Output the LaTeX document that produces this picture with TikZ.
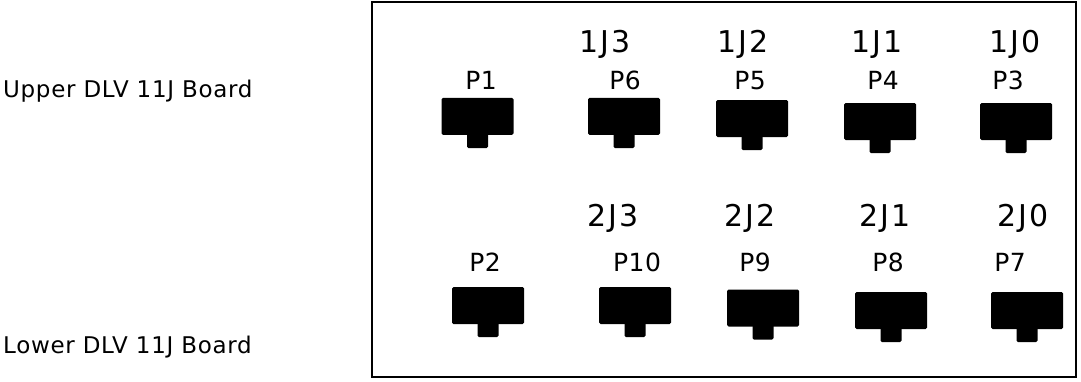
\documentclass[tikz,border=0pt]{standalone}
\usepackage{fontspec}
\setmainfont{DejaVu Sans}
\usepackage{tikz}
\usetikzlibrary{positioning}

\begin{document}
\begin{tikzpicture}[
      x=1pt,
      y=-1pt,
      jack/.style={
         fill=black,
         rounded corners=1.5pt,
         minimum width=72pt,
         minimum height=37pt,
         inner sep=0pt
      },
      plabel/.style={
         anchor=base,
         inner sep=0pt,
         font=\fontsize{25}{29}\selectfont\addfontfeature{LetterSpace=2}
      },
      jlabel/.style={
         anchor=base,
         inner sep=0pt,
         font=\fontsize{30}{34}\selectfont\addfontfeature{LetterSpace=8}
      },
      boardlabel/.style={
         anchor=base west,
         inner sep=0pt,
         font=\fontsize{23}{27}\selectfont\addfontfeature{LetterSpace=3}
      }
   ]

      \useasboundingbox (0,0) rectangle (1081,381);

      % board outline
      \draw[line width=1.8pt] (372,2) rectangle (1076,377);

      % boards
      \node[boardlabel] (upper) at (3,97) {Upper DLV 11J Board};
      \node[boardlabel] (lower) at (3,353) {Lower DLV 11J Board};

      % jacks with their P labels
      \foreach \n/\x/\y/\lx/\ly in {
         P1/477.5/116.4/481/89.5, P6/624/116.4/625/89.5,
         P5/752/118.5/750/89.5, P4/880/121.5/883/89.5,
         P3/1016/121.5/1008/89.5,
         P2/488/305.5/485/271.7, P10/635/305.5/637/271.7,
         P9/763/308/755/271.7, P8/891/310.5/888/271.7,
         P7/1027/310.5/1010/271.7}
      {
         \node[jack] (\n) at (\x,\y) {};
         \fill[rounded corners=1.5pt]
            ([xshift=-10.5pt,yshift=3pt]\n.south)
            rectangle ([xshift=10.5pt,yshift=-13pt]\n.south);
         \node[plabel] (\n-name) at (\lx,\ly) {\n};
      }

      % J labels
      \foreach \n/\x/\y in {
         1J3/605/52, 1J2/743/52, 1J1/877/52, 1J0/1015/52,
         2J3/613/226.7, 2J2/750/226.7, 2J1/885/226.7, 2J0/1023/226.7}
      {
         \node[jlabel] (\n) at (\x,\y) {\n};
      }
   \end{tikzpicture}
\end{document}
